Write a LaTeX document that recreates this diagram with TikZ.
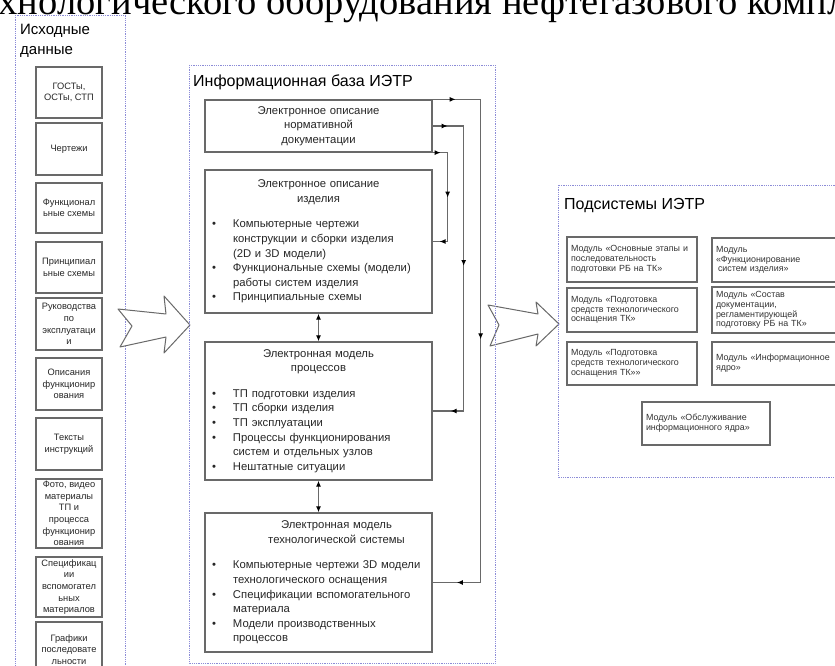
\documentclass[tikz,border=0pt]{standalone}
\usepackage{fontspec}
\setmainfont{Liberation Sans}
\newfontfamily\serifru{Liberation Serif}
\usetikzlibrary{arrows.meta,decorations.markings}

\definecolor{ramka}{RGB}{140,140,215}
\definecolor{seryj}{RGB}{105,105,105}

% заголовок блока и пункт списка
\newcommand{\zag}[1]{{\centering #1\par}\vspace{11pt}}
\newcommand{\nl}{\hfil\break}
\newcommand{\punkt}[1]{{\par\noindent\hangindent=21pt\hangafter=1\let\\\nl
  \makebox[21pt][l]{\textbullet}#1\par}}

\tikzset{
  oblast/.style={draw=ramka, densely dotted, line width=0.8pt},
  istochnik/.style={draw=seryj, line width=1.1pt, minimum width=66pt, inner sep=0pt,
    align=center, text=black!85, font=\fontsize{9.3}{11.6}\selectfont},
  blok/.style={draw=seryj, line width=1.3pt, inner xsep=7pt, inner ysep=0pt,
    text width=213pt, text=black!85, font=\fontsize{11.3}{14.6}\selectfont},
  modul/.style={draw=seryj, line width=1.1pt, inner xsep=4pt, inner ysep=0pt,
    text width=122pt, align=left, text=black!80, font=\fontsize{8.9}{9.8}\selectfont},
  svyaz/.style={draw=seryj, line width=1.3pt},
  strelka/.style n args={3}{svyaz, postaction={decorate, decoration={markings,
    mark=at position #1 with {\arrow{Latex[length=6pt,width=5pt,color=black]}},
    mark=at position #2 with {\arrow{Latex[length=6pt,width=5pt,color=black]}},
    mark=at position #3 with {\arrow{Latex[length=6pt,width=5pt,color=black]}}}}},
  bigarrow/.style={draw=seryj, line width=1pt, fill=white, line join=round}
}

\begin{document}
\begin{tikzpicture}[x=1pt,y=-1pt]
  \useasboundingbox (0,0) rectangle (835,666);
  \clip (0,0) rectangle (835,666);

  % заголовок страницы (обрезан)
  \node[anchor=base west, inner sep=0pt, font=\serifru\fontsize{38.5}{40}\selectfont]
    (zagolovok) at (-35,15) {технологического оборудования нефтегазового комплекса};

  % исходные данные
  \draw[oblast] (15,15) rectangle (125,700);
  \node[anchor=north west, inner sep=0pt, align=left, font=\fontsize{15}{20}\selectfont]
    (ishod) at (20,24) {Исходные\\данные};
  \node[istochnik, minimum height=51pt] (gost) at (69,92.5) {ГОСТы,\\ОСТы, СТП};
  \node[istochnik, minimum height=52pt] (chert) at (69,149) {Чертежи};
  \node[istochnik, minimum height=50pt] (funk) at (69,208) {Функционал\\ьные схемы};
  \node[istochnik, minimum height=51pt] (princ) at (69,267.5) {Принципиал\\ьные схемы};
  \node[istochnik, minimum height=52pt] (ruk) at (69,324) {Руководства\\по\\эксплуатаци\\и};
  \node[istochnik, minimum height=52pt] (opis) at (69,384) {Описания\\функционир\\ования};
  \node[istochnik, minimum height=52pt] (teksty) at (69,444) {Тексты\\инструкций};
  \node[istochnik, minimum height=69pt] (foto) at (69,513.5) {Фото, видео\\материалы\\ТП и\\процесса\\функционир\\ования};
  \node[istochnik, minimum height=60pt] (spec) at (69,587) {Спецификац\\ии\\вспомогател\\ьных\\материалов};
  \node[istochnik, minimum height=68pt] (graf) at (69,656) {Графики\\последовате\\льности\\процессов};

  % большие стрелки
  \draw[bigarrow] (118,309) -- (166,314) -- (164,296) -- (190,325) -- (164,353)
    -- (166,337) -- (120,347) -- (132,326) -- cycle;
  \draw[bigarrow] (488,305) -- (538,314) -- (536,302) -- (559,324) -- (536,346)
    -- (538,334) -- (490,346) -- (499,325) -- cycle;

  % информационная база
  \draw[oblast] (189,65) rectangle (495,663);
  \node[anchor=base west, inner sep=0pt, font=\fontsize{16}{18}\selectfont]
    (baza) at (193,87) {Информационная база ИЭТР};

  \node[blok, minimum height=52pt] (nd) at (318.5,126)
    {{\centering Электронное описание\\нормативной\\документации\par}};
  \node[blok, minimum height=143pt] (ei) at (318.5,241.5)
    {\zag{Электронное описание\\изделия}%
     \punkt{Компьютерные чертежи\\конструкции и сборки изделия\\(2D и 3D модели)}%
     \punkt{Функциональные схемы (модели)\\работы систем изделия}%
     \punkt{Принципиальные схемы}};
  \node[blok, minimum height=138pt] (pm) at (318.5,411)
    {\zag{Электронная модель\\процессов}%
     \punkt{ТП подготовки изделия}%
     \punkt{ТП сборки изделия}%
     \punkt{ТП эксплуатации}%
     \punkt{Процессы функционирования\\систем и отдельных узлов}%
     \punkt{Нештатные ситуации}};
  \node[blok, minimum height=139pt] (em) at (318.5,582.5)
    {\zag{\hspace*{36pt}Электронная модель\\\hspace*{36pt}технологической системы}%
     \punkt{Компьютерные чертежи 3D модели\\технологического оснащения}%
     \punkt{Спецификации вспомогательного\\материала}%
     \punkt{Модели производственных\\процессов}};

  % связи между блоками
  \draw[svyaz, {Latex[length=6pt,width=5pt,color=black]}-{Latex[length=6pt,width=5pt,color=black]}]
    (ei.south) -- (pm.north);
  \draw[svyaz, {Latex[length=6pt,width=5pt,color=black]}-{Latex[length=6pt,width=5pt,color=black]}]
    (pm.south) -- (em.north);
  \draw[strelka={23pt}{288pt}{555pt}] (nd.north east) -- ++(48,0) |- (em.east);
  \draw[strelka={15pt}{171pt}{329pt}] (nd.east) -- ++(31,0) |- (pm.east);
  \draw[strelka={8pt}{60pt}{112pt}] (nd.south east) -- ++(15,0) |- (ei.east);

  % подсистемы
  \draw[oblast] (558,185) rectangle (860,477);
  \node[anchor=base west, inner sep=0pt, font=\fontsize{16}{18}\selectfont]
    (podsist) at (564,209) {Подсистемы ИЭТР};
  \node[modul, minimum height=45pt] (m1) at (632,259.5)
    {Модуль «Основные этапы и\\последовательность\\подготовки РБ на ТК»};
  \node[modul, minimum height=44pt] (m2) at (777,260)
    {Модуль\\«Функционирование\\\hspace*{2pt}систем изделия»};
  \node[modul, minimum height=44pt] (m3) at (632,310)
    {Модуль «Подготовка\\средств технологического\\оснащения ТК»};
  \node[modul, minimum height=46pt] (m4) at (777,310)
    {Модуль «Состав\\документации,\\регламентирующей\\подготовку РБ на ТК»};
  \node[modul, minimum height=43pt] (m5) at (632,363.5)
    {Модуль «Подготовка\\средств технологического\\оснащения ТК»»};
  \node[modul, minimum height=43pt] (m6) at (777,363.5)
    {Модуль «Информационное\\ядро»};
  \node[modul, minimum height=43pt, text width=120pt] (m7) at (706,423.5)
    {Модуль «Обслуживание\\информационного ядра»};
\end{tikzpicture}
\end{document}
